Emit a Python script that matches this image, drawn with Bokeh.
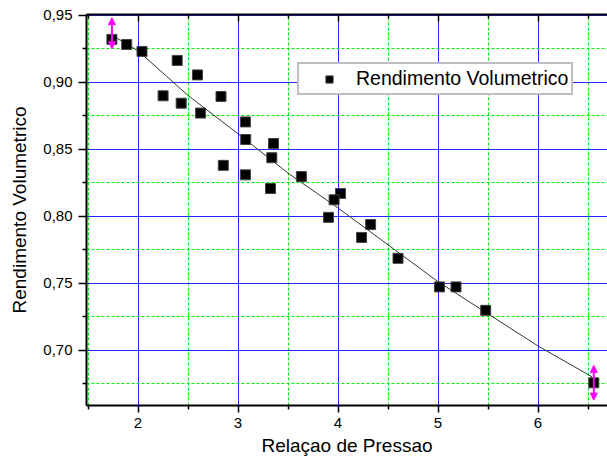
from bokeh.plotting import figure
from bokeh.models import (ColumnDataSource, FixedTicker, LinearAxis, Range1d, Legend, LegendItem,
                          Arrow, NormalHead, CustomJSTickFormatter)
from bokeh.embed import file_html
from bokeh.resources import INLINE

# ---- data ----
pressure_ratio = [1.739, 1.887, 2.040, 2.392, 2.595, 2.251, 2.432, 2.626, 2.830, 3.074,
                  3.077, 3.355, 3.338, 2.853, 3.074, 3.325, 3.634, 4.025, 3.961, 3.905,
                  4.326, 4.236, 4.600, 5.015, 5.180, 5.477, 6.558]
vol_efficiency = [0.9318, 0.9280, 0.9228, 0.9161, 0.9053, 0.8897, 0.8842, 0.8768, 0.8892, 0.8702,
                  0.8571, 0.8541, 0.8435, 0.8378, 0.8307, 0.8205, 0.8294, 0.8168, 0.8121, 0.7990,
                  0.7936, 0.7840, 0.7684, 0.7471, 0.7471, 0.7296, 0.6755]

fit_x = [1.75, 2.0, 2.5, 3.0, 3.5, 4.0, 4.5, 5.0, 5.5, 6.0, 6.54]
fit_y = [0.9345, 0.9233, 0.8900, 0.8614, 0.8320, 0.8060, 0.7785, 0.7510, 0.7270, 0.7030, 0.6800]

sel_x = [1.739, 6.558]
sel_hi = [0.9480, 0.6885]
sel_lo = [0.9248, 0.6626]

x_ticks = [2, 3, 4, 5, 6]
x_minor = [1.5, 2.5, 3.5, 4.5, 5.5, 6.5]
y_ticks = [0.70, 0.75, 0.80, 0.85, 0.90, 0.95]
y_tick_labels = ["0,70", "0,75", "0,80", "0,85", "0,90", "0,95"]
y_minor = [0.675, 0.725, 0.775, 0.825, 0.875, 0.925]

series_label = "Rendimento Volumetrico"
x_title = "Relaçao de Pressao"
y_title = "Rendimento Volumetrico"

FONT = "Liberation Sans"

# frame: 521 x 391 px; ranges chosen so major grid lines land on pixel centres
X0 = 1.485
Y1 = 0.95 + 0.5 / 1340
p = figure(width=607, height=463, output_backend="svg", toolbar_location=None,
           x_range=Range1d(X0, X0 + 521 / 100), y_range=Range1d(Y1 - 391 / 1340, Y1),
           min_border_left=86, min_border_right=0, min_border_top=14, min_border_bottom=58)
p.outline_line_color = None
p.background_fill_color = "white"
p.border_fill_color = "white"

xt = FixedTicker(ticks=x_ticks, minor_ticks=x_minor)
yt = FixedTicker(ticks=y_ticks, minor_ticks=y_minor)

xa = p.xaxis[0]
xa.ticker = xt
xa.axis_label = x_title
ya = p.yaxis[0]
ya.ticker = yt
ya.axis_label = y_title
ya.major_label_overrides = {t: l for t, l in zip(y_ticks, y_tick_labels)}

for ax in (xa, ya):
    ax.axis_line_width = 2
    ax.axis_line_color = "black"
    ax.major_tick_in = 0
    ax.minor_tick_in = 0
    ax.minor_tick_out = 4
    ax.major_tick_line_width = 1.5
    ax.minor_tick_line_width = 1.5
    ax.major_label_text_font = FONT
    ax.major_label_text_font_size = "15px"
    ax.major_label_text_color = "black"
    ax.axis_label_text_font = FONT
    ax.axis_label_text_font_size = "19px"
    ax.axis_label_text_font_style = "normal"
    ax.axis_label_text_color = "black"
xa.major_tick_out = 7
xa.major_label_standoff = 5
xa.axis_label_standoff = 4
ya.major_tick_out = 8
ya.major_label_standoff = 6
ya.axis_label_standoff = 10

top = LinearAxis(ticker=xt, formatter=CustomJSTickFormatter(code="return ''"))
top.axis_line_width = 2
top.major_tick_in = 7
top.major_tick_out = 0
top.minor_tick_in = 4
top.minor_tick_out = 0
top.major_tick_line_width = 1.5
top.minor_tick_line_width = 1.5
top.major_label_standoff = 0
p.add_layout(top, "above")

for g in (p.xgrid[0], p.ygrid[0]):
    g.grid_line_color = "#0000ff"
    g.grid_line_alpha = 0.85
    g.grid_line_width = 1
    g.minor_grid_line_color = "#00ee00"
    g.minor_grid_line_dash = "3 2"
    g.minor_grid_line_width = 1
p.xgrid[0].ticker = xt
p.ygrid[0].ticker = yt

p.line(fit_x, fit_y, line_color="#333333", line_width=1)

src = ColumnDataSource(dict(x=pressure_ratio, y=vol_efficiency))
r = p.scatter("x", "y", source=src, marker="square", size=10,
              fill_color="black", line_color="#444444", line_width=1)

sel_src = ColumnDataSource(dict(x=sel_x, hi=sel_hi, lo=sel_lo))
p.add_layout(Arrow(source=sel_src, x_start="x", y_start="lo", x_end="x", y_end="hi",
                   line_color="#ff00ff", line_width=2,
                   start=NormalHead(size=7, fill_color="#ff00ff", line_color="#ff00ff"),
                   end=NormalHead(size=7, fill_color="#ff00ff", line_color="#ff00ff")))

legend = Legend(items=[LegendItem(label=series_label, renderers=[r])],
                location=(211, 310), padding=3, margin=0, spacing=0,
                glyph_width=54, glyph_height=18, label_height=18, label_standoff=0,
                label_text_font=FONT, label_text_font_size="19.5px", label_text_color="black",
                border_line_color="#808080", border_line_width=2,
                background_fill_color="white", background_fill_alpha=1)
p.add_layout(legend, "center")

open("out.html", "w").write(file_html(p, INLINE))
